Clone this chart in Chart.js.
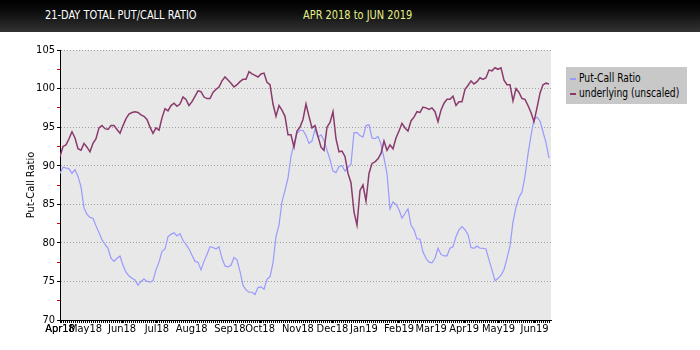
<!DOCTYPE html>
<html>
<head>
<meta charset="utf-8">
<script src="https://cdn.jsdelivr.net/npm/chart.js@4"></script>
<style>
  html, body { margin: 0; padding: 0; background: #ffffff; }
  #wrap { position: relative; width: 700px; height: 350px; overflow: hidden;
          font-family: "Liberation Sans Narrow", "DejaVu Sans Condensed", sans-serif; }
  #bar { position: absolute; left: 0; top: 0; width: 700px; height: 32px;
         background: linear-gradient(#000000 0%, #0c0c0c 35%, #333333 100%); }
  #bar span { position: absolute; top: 8px; font-size: 13px; line-height: 13px; white-space: nowrap;
              transform: scaleX(0.84); transform-origin: 0 50%; }
  #title { left: 45px; color: #ffffff; }
  #range { left: 303px; color: #e4ef86; }
  #chart { position: absolute; left: 0; top: 0; }
  #legend { position: absolute; left: 566px; top: 67px; width: 121px; height: 37px;
            background: #c8c8c8; font-size: 12px; color: #000; box-sizing: border-box; padding-top: 4px; }
  #legend div { position: relative; height: 14.5px; line-height: 14.5px; white-space: nowrap; }
  #legend i { position: absolute; left: 4px; top: 7px; width: 6px; height: 2px; }
  #legend span { position: absolute; left: 13px; top: 0; transform: scaleX(0.85); transform-origin: 0 50%; }
</style>
</head>
<body>
<div id="wrap">
  <canvas id="chart" width="700" height="350"></canvas>
  <div id="bar"><span id="title">21-DAY TOTAL PUT/CALL RATIO</span><span id="range">APR 2018 to JUN 2019</span></div>
  <div id="legend"></div>
</div>
<script>
// 21-day total put/call ratio (x100) and the underlying index, sampled every ~2 trading days
const putCall = [
  89.0, 89.8, 89.7, 89.6, 89.0, 89.5, 88.6, 87.3, 84.5, 83.7, 83.3, 83.2, 82.2, 81.3, 80.4, 79.8,
  79.3, 78.0, 77.6, 78.0, 78.3, 77.1, 76.2, 75.7, 75.4, 75.2, 74.5, 75.0, 75.3, 75.0, 74.9, 75.1, 76.5,
  77.5, 78.9, 79.2, 80.8, 81.1, 81.3, 80.9, 81.2, 80.3, 79.8, 79.2, 78.4, 77.6, 77.5, 76.5, 77.6,
  78.5, 79.5, 79.4, 79.2, 79.5, 78.0, 77.0, 76.9, 77.1, 78.1, 77.8, 76.3, 74.5, 73.9, 73.6, 73.6,
  73.3, 74.2, 74.3, 74.0, 75.3, 75.6, 77.4, 80.8, 82.3, 85.3, 86.8, 88.4, 91.2, 92.9, 94.2, 94.6,
  94.6, 93.9, 92.9, 93.2, 94.7, 93.7, 94.0, 93.3, 92.0, 90.8, 89.3, 89.1, 89.9, 90.0, 89.3, 89.8,
  90.2, 94.3, 94.3, 93.9, 93.7, 95.2, 95.3, 93.6, 93.5, 93.8, 92.8, 91.0, 89.0, 84.4, 85.3, 85.0,
  84.3, 83.2, 83.8, 84.4, 82.3, 81.7, 80.5, 80.5, 78.8, 78.0, 77.5, 77.4, 78.0, 79.3, 78.5, 78.3, 78.3,
  79.3, 79.5, 80.8, 81.7, 82.1, 81.7, 81.1, 79.4, 79.3, 79.6, 79.3, 79.3, 79.2, 77.8, 76.5, 75.1,
  75.4, 75.8, 76.5, 78.0, 79.6, 82.7, 84.6, 85.9, 86.6, 88.6, 91.5, 93.9, 96.0, 96.3, 95.8, 94.4, 93.0, 91.0
];
const underlying = [
  91.2, 92.5, 92.7, 93.5, 94.4, 93.6, 92.2, 92.0, 92.9, 92.4, 91.8, 92.9, 93.5, 94.9, 95.2, 94.8,
  94.7, 95.2, 95.2, 94.7, 94.2, 95.2, 96.1, 96.7, 96.9, 97.0, 96.9, 96.6, 96.4, 96.0, 95.0, 94.2, 94.9,
  94.6, 96.2, 97.4, 97.1, 97.8, 98.1, 97.7, 98.0, 98.9, 98.6, 97.8, 98.3, 99.0, 99.7, 99.6, 98.9,
  98.7, 98.7, 99.5, 99.9, 100.2, 101.0, 101.5, 101.1, 100.7, 100.2, 100.5, 100.9, 101.2, 101.2, 102.2, 101.9,
  101.7, 101.5, 101.9, 102.0, 100.8, 100.5, 98.0, 96.4, 97.8, 97.2, 96.4, 94.0, 94.0, 92.4, 94.5, 95.0,
  96.0, 98.0, 96.4, 94.9, 95.2, 93.8, 92.4, 92.0, 95.0, 95.6, 97.0, 93.5, 91.8, 91.9, 91.2, 89.0,
  87.8, 84.0, 82.3, 86.8, 87.5, 85.4, 89.0, 90.3, 90.5, 90.9, 91.6, 93.2, 92.0, 92.7, 92.2, 93.6,
  94.5, 95.5, 94.9, 94.5, 95.8, 96.3, 97.0, 96.9, 97.6, 97.5, 97.3, 97.5, 97.0, 95.7, 97.2, 98.1, 98.6,
  98.6, 99.0, 97.8, 98.3, 98.3, 99.9, 100.4, 101.0, 100.6, 100.9, 101.4, 101.2, 101.4, 102.4, 102.3, 102.7,
  102.5, 102.7, 101.1, 100.5, 100.5, 98.4, 100.0, 99.5, 98.7, 98.6, 97.8, 96.9, 95.7, 97.5, 99.4, 100.5, 100.7, 100.6
];
// where each month label sits, in sample units
const monthStarts = [0, 8.5, 20.7, 32.3, 43.9, 56.6, 66.7, 79.3, 90.8, 101.3, 113, 123.7, 134.7, 146.2, 158.2];
const monthLabels = ['Apr18', 'May18', 'Jun18', 'Jul18', 'Aug18', 'Sep18', 'Oct18', 'Nov18', 'Dec18',
                     'Jan19', 'Feb19', 'Mar19', 'Apr19', 'May19', 'Jun19'];
const yTicks = [70, 75, 80, 85, 90, 95, 100, 105];

const FONT = '"Liberation Sans Narrow", "DejaVu Sans Condensed", sans-serif';
const xMax = 163.67;
const monthByValue = new Map(monthStarts.map((v, k) => [v, monthLabels[k]]));

const plotBackground = {
  id: 'plotBackground',
  beforeDraw(chart) {
    const { ctx, chartArea: a } = chart;
    ctx.save();
    ctx.fillStyle = '#e8e8e8';
    ctx.fillRect(a.left, a.top, a.right - a.left, a.bottom - a.top);
    ctx.restore();
  }
};

const chart = new Chart(document.getElementById('chart'), {
  type: 'line',
  data: {
    datasets: [
      { label: 'Put-Call Ratio', data: putCall.map((v, i) => ({ x: i, y: v })),
        borderColor: '#9999ff', borderWidth: 1.2, pointRadius: 0, tension: 0, order: 1 },
      { label: 'underlying (unscaled)', data: underlying.map((v, i) => ({ x: i, y: v })),
        borderColor: '#8a3a6c', borderWidth: 1.5, pointRadius: 0, tension: 0, order: 0 }
    ]
  },
  options: {
    responsive: false,
    animation: false,
    devicePixelRatio: 1,
    layout: { padding: { top: 50, right: 149, left: 0, bottom: 0 } },
    plugins: { legend: { display: false }, tooltip: { enabled: false } },
    scales: {
      x: {
        type: 'linear', min: 0, max: xMax,
        afterFit: (s) => { s.height = 30; },
        afterBuildTicks: (s) => {
          const t = [];
          for (let v = 0; v <= xMax + 1e-6; v += 2 / 3) t.push({ value: v });
          monthStarts.forEach(v => t.push({ value: v }));
          t.sort((a, b) => a.value - b.value);
          s.ticks = t;
        },
        ticks: {
          autoSkip: false, maxRotation: 0, minRotation: 0, padding: 0, color: '#000',
          font: { family: FONT, size: 11 },
          callback: (v) => monthByValue.get(v) || ''
        },
        grid: { drawOnChartArea: false, tickLength: 3, tickColor: '#000' },
        border: { color: '#000', width: 1 }
      },
      y: {
        min: 70, max: 105,
        afterFit: (s) => { s.width = 60; },
        afterBuildTicks: (s) => {
          const t = [];
          yTicks.forEach((v, k) => {
            t.push({ value: v });
            if (k < yTicks.length - 1) t.push({ value: (v + yTicks[k + 1]) / 2 });
          });
          s.ticks = t;
        },
        ticks: {
          padding: 2, color: '#000', font: { family: FONT, size: 11 },
          callback: (v) => (yTicks.includes(v) ? String(v) : '')
        },
        grid: {
          tickLength: 3,
          color: (c) => (c.tick && yTicks.includes(c.tick.value) ? '#a0a0a0' : 'rgba(0,0,0,0)'),
          tickColor: (c) => (c.tick && yTicks.includes(c.tick.value) ? '#000000' : '#e00000')
        },
        border: { color: '#000', width: 1, dash: [1, 2] },
        title: { display: true, text: 'Put-Call Ratio', color: '#000',
                 font: { family: FONT, size: 11 }, padding: { top: 25, bottom: 0 } }
      }
    }
  },
  plugins: [plotBackground]
});

// legend box built from the datasets
const legend = document.getElementById('legend');
chart.data.datasets.forEach(ds => {
  const row = document.createElement('div');
  const sw = document.createElement('i');
  sw.style.background = ds.borderColor;
  const txt = document.createElement('span');
  txt.textContent = ds.label;
  row.appendChild(sw);
  row.appendChild(txt);
  legend.appendChild(row);
});
</script>
</body>
</html>
